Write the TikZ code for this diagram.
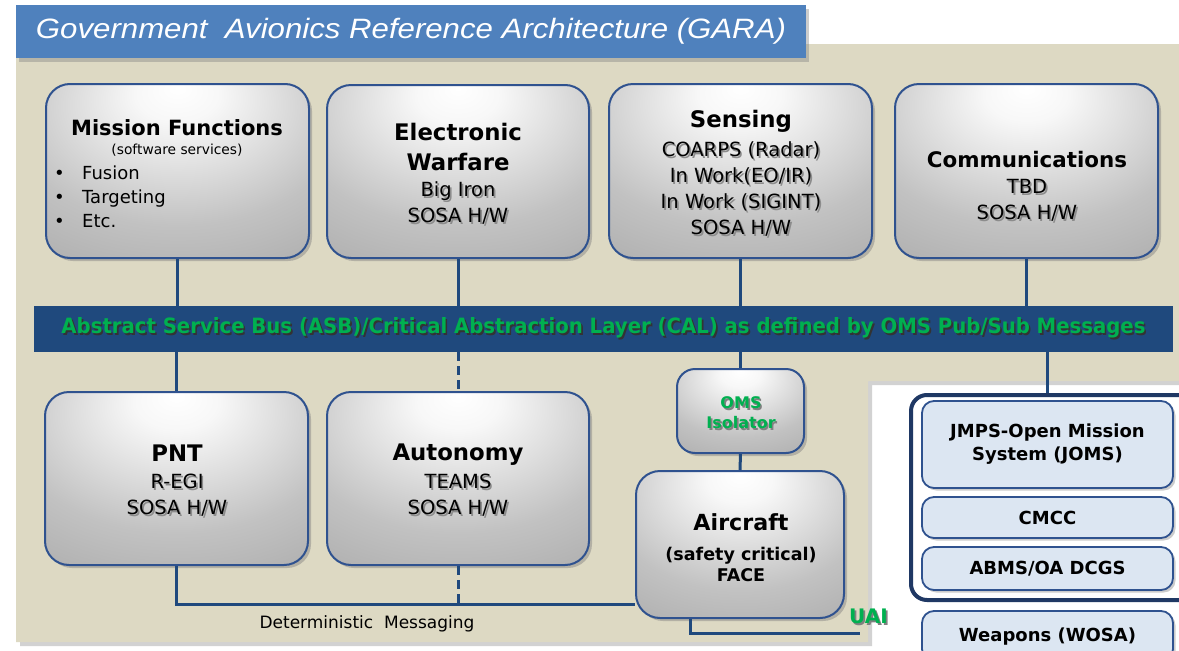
\documentclass[tikz,border=0pt]{standalone}
\usepackage{graphicx}
\usepackage{fontspec}
\setmainfont{DejaVu Sans}
\newfontfamily\titlefont{Liberation Sans}
\usetikzlibrary{shadows,calc}
\definecolor{beige}{HTML}{DDD9C3}
\definecolor{titleblue}{HTML}{4F81BD}
\definecolor{busblue}{HTML}{1F497D}
\definecolor{boxline}{HTML}{2F528F}
\definecolor{grn}{HTML}{00B050}
\definecolor{lightfill}{HTML}{DCE6F2}
\definecolor{grpline}{HTML}{1F3864}
\pgfdeclareradialshading{boxshade}{\pgfpoint{0bp}{24bp}}{color(0bp)=(white); color(8bp)=(white!97!black); color(32bp)=(black!24); color(52bp)=(black!34); color(72bp)=(black!46); color(100bp)=(black!55)}
\newcommand{\shd}[2][black!45]{\leavevmode\rlap{\hspace{1.7pt}\raisebox{-1.7pt}{\textcolor{#1}{#2}}}#2}
\tikzset{
  gbox/.style={draw=boxline, line width=2pt, rounded corners=24pt, shade, shading=boxshade,
    drop shadow={shadow xshift=3pt, shadow yshift=-3pt, opacity=0.45}, inner sep=0pt},
  lbox/.style={draw=boxline, line width=1.8pt, rounded corners=12pt, fill=lightfill,
    drop shadow={shadow xshift=2.5pt, shadow yshift=-2.5pt, opacity=0.4}, inner sep=0pt,
    minimum width=251pt, font=\fontsize{18}{23}\selectfont\bfseries, align=center},
  ttl/.style={font=\fontsize{22.8}{30}\selectfont\bfseries, align=center, inner sep=0pt},
  bdy/.style={font=\fontsize{19.5}{26}\selectfont, align=center, inner sep=0pt},
  conn/.style={draw=busblue, line width=3pt},
  dashconn/.style={conn, dash pattern=on 9pt off 5pt},
}
\begin{document}
\begin{tikzpicture}[x=1pt,y=-1pt]
\useasboundingbox (0,0) rectangle (1179,651);
\fill[white] (0,0) rectangle (1179,651);
% panel
\path[fill=beige, drop shadow={shadow xshift=4pt, shadow yshift=-4pt, opacity=0.35}]
  (16,44) -- (1200,44) -- (1200,381) -- (868,381) -- (868,642) -- (16,642) -- cycle;
% title
\node[fill=titleblue, minimum width=790pt, minimum height=53pt, inner sep=0pt, text=white,
  drop shadow={shadow xshift=3pt, shadow yshift=-4pt, opacity=0.4}] (title) at (411,31.5)
  {\resizebox{750pt}{\height}{\fontsize{28}{28}\selectfont\titlefont\itshape Government\ \ Avionics Reference Architecture (GARA)}};
% bus
\node[fill=busblue, minimum width=1139pt, minimum height=46pt, inner sep=0pt] (bus) at (603.5,329)
  {\resizebox{1084pt}{16pt}{\fontsize{20}{20}\selectfont\bfseries\color{grn}\shd[black!80]{Abstract Service Bus (ASB)/Critical Abstraction Layer (CAL) as defined by OMS Pub/Sub Messages}}};
% top boxes
\node[gbox, minimum width=263pt, minimum height=174pt] (mf) at (177.5,171) {};
\node[gbox, minimum width=262pt, minimum height=173pt] (ew) at (458,171.5) {};
\node[gbox, minimum width=263pt, minimum height=174pt] (sens) at (740.5,171) {};
\node[gbox, minimum width=263pt, minimum height=174pt] (comm) at (1026.5,171) {};
% bottom boxes
\node[gbox, minimum width=263pt, minimum height=173pt] (pnt) at (176.5,478.5) {};
\node[gbox, minimum width=262pt, minimum height=173pt] (auto) at (458,478.5) {};
\node[gbox, rounded corners=18pt, minimum width=127pt, minimum height=84pt] (oms) at (740.5,411) {};
\node[gbox, minimum width=208pt, minimum height=147pt] (aircraft) at (740,544.5) {};
% right group
\node[draw=grpline, line width=4pt, fill=white, rounded corners=16pt, minimum width=284pt, minimum height=205pt, inner sep=0pt] (grp) at (1053,497.5) {};
\node[lbox, minimum height=87pt] (joms) at (1047.5,444.5) {JMPS-Open Mission\\System (JOMS)};
\node[lbox, minimum height=41pt] (cmcc) at (1047.5,517.5) {CMCC};
\node[lbox, minimum height=43pt] (abms) at (1047.5,568.5) {ABMS/OA DCGS};
\node[lbox, minimum height=50pt, text depth=0pt] (weap) at (1047.5,636) {\raisebox{2.5pt}{Weapons (WOSA)}};
% texts
\node[ttl, font=\fontsize{21}{26}\selectfont\bfseries] (mfT) at (177,128) {Mission Functions};
\node[inner sep=0pt, font=\fontsize{13.8}{15}\selectfont] (mfS) at (177,150) {(software services)};
\node[inner sep=0pt, anchor=west, align=left, font=\fontsize{18}{24}\selectfont] (mfL) at (54,197)
  {\makebox[28pt][l]{•}Fusion\\\makebox[28pt][l]{•}Targeting\\\makebox[28pt][l]{•}Etc.};
\node[ttl] (ewT) at (458,147) {Electronic\\Warfare};
\node[bdy] (ewB) at (458,204) {\shd{Big Iron}\\\shd{SOSA H/W}};
\node[ttl] (sensT) at (741,121) {Sensing};
\node[bdy] (sensB) at (741,190) {\shd{COARPS (Radar)}\\\shd{In Work(EO/IR)}\\\shd{In Work (SIGINT)}\\\shd{SOSA H/W}};
\node[ttl, font=\fontsize{21.4}{26}\selectfont\bfseries] (commT) at (1027,160) {Communications};
\node[bdy] (commB) at (1027,201) {\shd{TBD}\\\shd{SOSA H/W}};
\node[ttl] (pntT) at (177,453) {PNT};
\node[bdy] (pntB) at (177,496) {\shd{R-EGI}\\\shd{SOSA H/W}};
\node[ttl] (autoT) at (458,455) {Autonomy};
\node[bdy] (autoB) at (458,496) {\shd{TEAMS}\\\shd{SOSA H/W}};
\node[inner sep=0pt, align=center, font=\fontsize{16}{20}\selectfont\bfseries, text=grn] (omsT) at (741,414)
  {\shd[black!50]{OMS}\\\shd[black!50]{Isolator}};
\node[inner sep=0pt, font=\fontsize{22.2}{26}\selectfont\bfseries] (acT) at (741,522) {Aircraft};
\node[inner sep=0pt, align=center, font=\fontsize{17.5}{21}\selectfont\bfseries] (acB) at (741,564) {(safety critical)\\FACE};
% connectors
\coordinate (dmy) at (0,604);
\coordinate (uaic) at (690,633);
\coordinate (uaie) at (860,633);
\draw[conn] (mf.south) -- (mf.south |- bus.north);
\draw[conn] (ew.south) -- (ew.south |- bus.north);
\draw[conn] (sens.south) -- (sens.south |- bus.north);
\draw[conn] (comm.south) -- (comm.south |- bus.north);
\draw[conn] (bus.south -| pnt.north) -- (pnt.north);
\draw[dashconn] (bus.south -| auto.north) -- (auto.north);
\draw[conn] (bus.south -| oms.north) -- (oms.north);
\draw[conn] (oms.south) -- (aircraft.north);
\draw[conn] (bus.south -| joms.north) -- (grp.north -| joms.north);
\draw[conn] (pnt.south) |- (aircraft.west |- dmy);
\draw[dashconn] (auto.south) -- (auto.south |- dmy);
\draw[conn] (aircraft.south -| uaic) -- (uaic) -- (uaie);
\node[inner sep=0pt, font=\fontsize{17}{20}\selectfont] (dmT) at (367,624) {Deterministic\ \ Messaging};
\node[inner sep=0pt, font=\fontsize{20}{22}\selectfont\bfseries, text=grn] (uaiT) at (868.5,617) {\shd[black!50]{UAI}};
\end{tikzpicture}
\end{document}
